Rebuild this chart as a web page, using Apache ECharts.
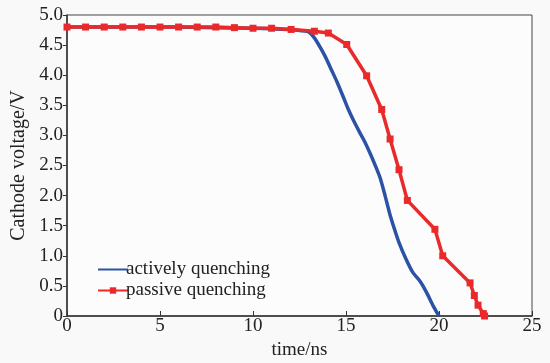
<!DOCTYPE html>
<html>
<head>
<meta charset="utf-8">
<script src="https://cdn.jsdelivr.net/npm/echarts@6/dist/echarts.min.js"></script>
<style>
    html, body { margin: 0; padding: 0; background: #fff; }
    #chart { width: 550px; height: 363px; }
</style>
</head>
<body>
<div id="chart"></div>
<script>
// actively quenching (blue, no markers)
const activeTime = [0, 2, 4, 6, 8, 10, 11, 12, 12.6, 13.0, 13.3, 13.6, 13.9, 14.2, 14.5, 14.8, 15.1, 15.4, 15.7, 16.0, 16.3, 16.6, 16.85, 17.1, 17.35, 17.6, 17.85, 18.25, 18.6, 19.0, 19.35, 19.7, 20.0];
const activeVolt = [4.80, 4.80, 4.80, 4.80, 4.79, 4.78, 4.77, 4.76, 4.74, 4.72, 4.62, 4.47, 4.30, 4.10, 3.90, 3.68, 3.45, 3.25, 3.07, 2.90, 2.70, 2.48, 2.28, 2.00, 1.70, 1.45, 1.22, 0.93, 0.72, 0.57, 0.38, 0.16, 0];

// passive quenching (red, square markers)
const passiveTime = [0, 1, 2, 3, 4, 5, 6, 7, 8, 9, 10, 11, 12.05, 13.3, 14.05, 15.04, 16.11, 16.92, 17.37, 17.85, 18.3, 19.78, 20.2, 21.67, 21.9, 22.1, 22.38, 22.45];
const passiveVolt = [4.80, 4.80, 4.80, 4.80, 4.80, 4.80, 4.80, 4.80, 4.80, 4.79, 4.78, 4.78, 4.76, 4.73, 4.70, 4.51, 3.99, 3.43, 2.94, 2.43, 1.92, 1.44, 1.00, 0.55, 0.34, 0.18, 0.04, 0];

const xTicks = [0, 5, 10, 15, 20, 25];
const yTicks = [0, 0.5, 1.0, 1.5, 2.0, 2.5, 3.0, 3.5, 4.0, 4.5, 5.0];

const serif = 'Liberation Serif';
const blue = '#2b52a6';
const red = '#ea2a2a';

let chart = echarts.init(document.getElementById('chart'));

let option = {
    backgroundColor: '#f9f9f9',
    animation: false,
    grid: {
        left: 67,
        right: 18,
        top: 15,
        bottom: 47,
        outerBoundsMode: 'none',
        containLabel: false,
        show: true,
        backgroundColor: '#fcfcfc',
        borderColor: '#444',
        borderWidth: 1
    },
    legend: {
        orient: 'vertical',
        left: 92,
        top: 255,
        itemWidth: 30,
        itemHeight: 8,
        itemGap: 2,
        textStyle: { fontFamily: serif, fontSize: 19, color: '#222', padding: [0, 0, 0, -7] },
        data: [
            { name: 'actively quenching', itemStyle: { opacity: 0 } },
            { name: 'passive quenching' }
        ]
    },
    xAxis: {
        type: 'value',
        min: xTicks[0],
        max: xTicks[xTicks.length - 1],
        interval: 5,
        name: 'time/ns',
        nameLocation: 'middle',
        nameGap: 25,
        nameTextStyle: { fontFamily: serif, fontSize: 19, color: '#222' },
        axisLine: { show: true, lineStyle: { color: '#333', width: 1.5 } },
        axisTick: { show: true, inside: true, length: 5, lineStyle: { color: '#333' } },
        axisLabel: { fontFamily: serif, fontSize: 19, color: '#222', margin: 1 },
        splitLine: { show: false }
    },
    yAxis: {
        type: 'value',
        min: yTicks[0],
        max: yTicks[yTicks.length - 1],
        interval: 0.5,
        name: 'Cathode voltage/V',
        nameLocation: 'middle',
        nameGap: 35,
        nameTextStyle: { fontFamily: serif, fontSize: 20, color: '#222' },
        axisLine: { show: true, lineStyle: { color: '#333', width: 1.5 } },
        axisTick: { show: true, inside: false, length: 4, lineStyle: { color: '#333' } },
        axisLabel: {
            fontFamily: serif, fontSize: 19, color: '#222', margin: 4,
            formatter: function (v) { return v === 0 ? '0' : v.toFixed(1); }
        },
        splitLine: { show: false }
    },
    series: [
        {
            name: 'actively quenching',
            type: 'line',
            smooth: 0.2,
            symbol: 'none',
            lineStyle: { color: blue, width: 3.5 },
            itemStyle: { color: blue },
            data: activeTime.map((t, i) => [t, activeVolt[i]]),
            z: 2
        },
        {
            name: 'passive quenching',
            type: 'line',
            symbol: 'rect',
            symbolSize: 7,
            lineStyle: { color: red, width: 3.5 },
            itemStyle: { color: red },
            data: passiveTime.map((t, i) => [t, passiveVolt[i]]),
            z: 3
        }
    ]
};

chart.setOption(option);
</script>
</body>
</html>
